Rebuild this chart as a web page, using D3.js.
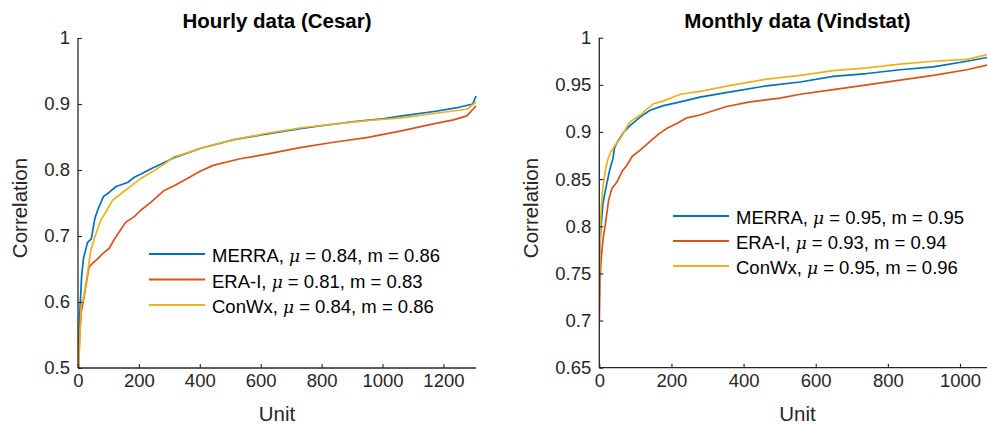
<!DOCTYPE html>
<html>
<head>
<meta charset="utf-8">
<script src="https://cdn.jsdelivr.net/npm/d3@7"></script>
<style>
  html, body { margin: 0; padding: 0; background: #fff; }
  svg { display: block; }
  text { font-family: "Liberation Sans", Arial, Helvetica, sans-serif; }
</style>
</head>
<body>
<svg id="chart" width="987" height="424"></svg>
<script>
// ---------- data ----------
const seriesNames = ["MERRA", "ERA-I", "ConWx"];
const seriesColors = ["#0072BD", "#D95319", "#EDB120"];

const hourlyTitle = "Hourly data (Cesar)";
const hourlyMeans = ["0.84", "0.81", "0.84"];
const hourlyMedians = ["0.86", "0.83", "0.86"];
const hourlyXTicks = [0, 200, 400, 600, 800, 1000, 1200];
const hourlyYTicks = [0.5, 0.6, 0.7, 0.8, 0.9, 1];
const hourlyMerra = [[1,0.50],[4,0.56],[7,0.593],[12,0.64],[18,0.666],[31,0.690],[44,0.696],[55,0.726],[66,0.741],[84,0.760],[102,0.766],[125,0.775],[163,0.781],[185,0.789],[207,0.794],[240,0.802],[273,0.809],[317,0.819],[361,0.826],[403,0.833],[513,0.846],[602,0.853],[734,0.863],[800,0.867],[900,0.873],[1006,0.878],[1064,0.882],[1175,0.889],[1241,0.894],[1296,0.900],[1307,0.912]];
const hourlyEra = [[1,0.50],[6,0.55],[11,0.586],[20,0.608],[29,0.633],[36,0.653],[47,0.658],[66,0.666],[80,0.673],[102,0.681],[118,0.694],[135,0.706],[157,0.721],[184,0.729],[206,0.739],[239,0.751],[283,0.769],[316,0.776],[359,0.787],[401,0.798],[444,0.807],[532,0.817],[620,0.824],[729,0.834],[839,0.842],[948,0.849],[1058,0.859],[1167,0.870],[1233,0.876],[1277,0.882],[1307,0.897]];
const hourlyConwx = [[2,0.50],[7,0.56],[11,0.598],[17,0.603],[31,0.643],[42,0.678],[55,0.698],[75,0.724],[91,0.736],[113,0.754],[141,0.764],[174,0.776],[206,0.787],[250,0.799],[283,0.809],[315,0.820],[360,0.826],[403,0.833],[513,0.846],[624,0.856],[734,0.864],[844,0.870],[954,0.875],[1064,0.879],[1175,0.886],[1277,0.892],[1307,0.903]];

const monthlyTitle = "Monthly data (Vindstat)";
const monthlyMeans = ["0.95", "0.93", "0.95"];
const monthlyMedians = ["0.95", "0.94", "0.96"];
const monthlyXTicks = [0, 200, 400, 600, 800, 1000];
const monthlyYTicks = [0.65, 0.7, 0.75, 0.8, 0.85, 0.9, 0.95, 1];
const monthlyMerra = [[0,0.76],[2,0.78],[5,0.80],[10,0.824],[19,0.842],[29,0.860],[38,0.872],[42,0.883],[51,0.890],[68,0.900],[86,0.907],[114,0.916],[141,0.923],[178,0.928],[225,0.932],[279,0.937],[372,0.943],[464,0.949],[557,0.953],[649,0.959],[742,0.962],[834,0.966],[926,0.969],[1019,0.975],[1075,0.979]];
const monthlyEra = [[0,0.699],[2,0.74],[5,0.764],[10,0.785],[17,0.803],[26,0.828],[35,0.840],[49,0.847],[63,0.858],[77,0.865],[91,0.874],[114,0.881],[141,0.890],[165,0.898],[188,0.904],[215,0.909],[243,0.915],[279,0.918],[353,0.927],[418,0.932],[501,0.936],[557,0.940],[649,0.945],[742,0.950],[834,0.955],[926,0.960],[1019,0.966],[1075,0.971]];
const monthlyConwx = [[0,0.729],[2,0.78],[5,0.817],[10,0.842],[17,0.860],[23,0.870],[32,0.879],[44,0.886],[58,0.893],[77,0.906],[86,0.911],[114,0.918],[128,0.923],[151,0.930],[178,0.933],[225,0.940],[279,0.943],[372,0.950],[464,0.956],[557,0.960],[649,0.965],[742,0.968],[834,0.972],[926,0.975],[1019,0.977],[1075,0.982]];

const xLabel = "Unit";
const yLabel = "Correlation";

// ---------- drawing ----------
const svg = d3.select("#chart");
svg.append("rect").attr("width", 987).attr("height", 424).attr("fill", "#fff");
const axisColor = "#262626";

function panel(cfg) {
  const g = svg.append("g");
  const x = d3.scaleLinear().domain(cfg.xDomain).range([cfg.left, cfg.right]);
  const y = d3.scaleLinear().domain(cfg.yDomain).range([cfg.bottom, cfg.top]);

  const clipId = "clip" + cfg.id;
  svg.append("clipPath").attr("id", clipId).append("rect")
    .attr("x", cfg.left).attr("y", cfg.top - 2)
    .attr("width", cfg.right - cfg.left + 2).attr("height", cfg.bottom - cfg.top + 2);

  // data lines
  const line = d3.line().x(d => x(d[0])).y(d => y(d[1]));
  const lg = g.append("g").attr("clip-path", `url(#${clipId})`);
  cfg.series.forEach((s, i) => {
    lg.append("path").datum(s).attr("d", line)
      .attr("fill", "none").attr("stroke", seriesColors[i])
      .attr("stroke-width", 1.7).attr("stroke-linejoin", "round");
  });

  // axes (inward ticks, no box)
  const xAxis = d3.axisBottom(x).tickValues(cfg.xTicks).tickSize(-4).tickPadding(9)
    .tickFormat(d3.format("d"));
  const yAxis = d3.axisLeft(y).tickValues(cfg.yTicks).tickSize(-4).tickPadding(8)
    .tickFormat(d => String(+d.toFixed(2)));
  const gx = g.append("g").attr("transform", `translate(0,${cfg.bottom})`).call(xAxis);
  const gy = g.append("g").attr("transform", `translate(${cfg.left},0)`).call(yAxis);
  [gx, gy].forEach(a => {
    a.select(".domain").attr("stroke", axisColor).attr("stroke-width", 1.3)
      .attr("d", a === gx ? `M${cfg.left},0H${cfg.right}` : `M0,${cfg.bottom}V${cfg.top}`);
    a.selectAll(".tick line").attr("stroke", axisColor).attr("stroke-width", 1.1);
    a.selectAll(".tick text").attr("fill", axisColor)
      .style("font-family", "'Liberation Sans', Arial, sans-serif").style("font-size", "18.5px");
  });
  gx.selectAll(".tick text").attr("dy", "0.71em").attr("y", 6);

  // title
  g.append("text").attr("x", (cfg.left + cfg.titleRight) / 2).attr("y", 28)
    .attr("text-anchor", "middle").attr("font-weight", "bold")
    .attr("font-size", "20.5px").attr("fill", "#000").text(cfg.title);
  // x label
  g.append("text").attr("x", (cfg.left + cfg.titleRight) / 2).attr("y", 421)
    .attr("text-anchor", "middle").attr("font-size", "20.5px").attr("fill", axisColor).text(xLabel);
  // y label
  g.append("text").attr("transform", `translate(${cfg.yLabelX},208) rotate(-90)`)
    .attr("text-anchor", "middle").attr("font-size", "20.5px").attr("fill", axisColor).text(yLabel);

  // legend
  seriesNames.forEach((name, i) => {
    const ly = cfg.legendY + i * cfg.legendStep;
    g.append("line").attr("x1", cfg.legendX).attr("x2", cfg.legendX + 56)
      .attr("y1", ly).attr("y2", ly).attr("stroke", seriesColors[i]).attr("stroke-width", 2);
    const t = g.append("text").attr("x", cfg.legendX + 63).attr("y", ly + 8)
      .attr("font-size", "18.5px").attr("fill", "#000");
    t.append("tspan").text(name + ", ");
    t.append("tspan").attr("font-style", "italic")
      .style("font-family", "'DejaVu Serif', 'Liberation Serif', serif").attr("font-size", "17px").text("\u03BC");
    t.append("tspan").text(" = " + cfg.means[i] + ", m = " + cfg.medians[i]);
  });
}

panel({
  id: "h", title: hourlyTitle,
  left: 78, right: 476, titleRight: 476, top: 38, bottom: 368,
  xDomain: [0, 1307], yDomain: [0.5, 1],
  xTicks: hourlyXTicks, yTicks: hourlyYTicks,
  series: [hourlyMerra, hourlyEra, hourlyConwx],
  means: hourlyMeans, medians: hourlyMedians,
  legendX: 149, legendY: 254, legendStep: 25.5, yLabelX: 27
});
panel({
  id: "m", title: monthlyTitle,
  left: 599.3, right: 995.7, titleRight: 995.7, top: 37.7, bottom: 367.7,
  xDomain: [0, 1099], yDomain: [0.65, 1],
  xTicks: monthlyXTicks, yTicks: monthlyYTicks,
  series: [monthlyMerra, monthlyEra, monthlyConwx],
  means: monthlyMeans, medians: monthlyMedians,
  legendX: 673, legendY: 216, legendStep: 25, yLabelX: 538
});
</script>
</body>
</html>
